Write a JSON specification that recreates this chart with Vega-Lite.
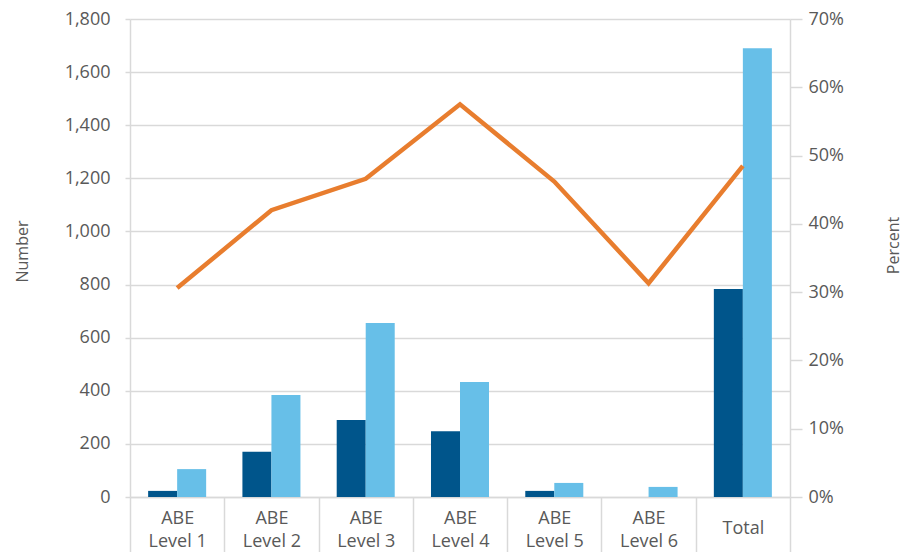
{
  "$schema": "https://vega.github.io/schema/vega-lite/v6.json",
  "width": 660,
  "height": 478,
  "autosize": {"type": "none"},
  "padding": {"left": 130, "top": 19, "right": 121, "bottom": 55},
  "config": {
    "font": "Open Sans",
    "view": {"stroke": null},
    "axis": {
      "labelFont": "Open Sans",
      "titleFont": "Open Sans",
      "labelColor": "#595959",
      "titleColor": "#595959",
      "titleFontWeight": "normal",
      "domainColor": "#d9d9d9",
      "tickColor": "#d9d9d9",
      "gridColor": "#d9d9d9",
      "domainWidth": 1.5,
      "tickWidth": 1.5,
      "gridWidth": 1.5
    }
  },
  "datasets": {
    "bars": [
      {"category": "ABE Level 1", "series": "A", "count": 23},
      {"category": "ABE Level 1", "series": "B", "count": 105},
      {"category": "ABE Level 2", "series": "A", "count": 170},
      {"category": "ABE Level 2", "series": "B", "count": 384},
      {"category": "ABE Level 3", "series": "A", "count": 290},
      {"category": "ABE Level 3", "series": "B", "count": 655},
      {"category": "ABE Level 4", "series": "A", "count": 248},
      {"category": "ABE Level 4", "series": "B", "count": 433},
      {"category": "ABE Level 5", "series": "A", "count": 23},
      {"category": "ABE Level 5", "series": "B", "count": 53},
      {"category": "ABE Level 6", "series": "A", "count": 0},
      {"category": "ABE Level 6", "series": "B", "count": 38},
      {"category": "Total", "series": "A", "count": 783},
      {"category": "Total", "series": "B", "count": 1690}
    ],
    "line": [
      {"category": "ABE Level 1", "percent": 0.306},
      {"category": "ABE Level 2", "percent": 0.420},
      {"category": "ABE Level 3", "percent": 0.466},
      {"category": "ABE Level 4", "percent": 0.575},
      {"category": "ABE Level 5", "percent": 0.462},
      {"category": "ABE Level 6", "percent": 0.313},
      {"category": "Total", "percent": 0.485}
    ]
  },
  "layer": [
    {
      "data": {"name": "bars"},
      "mark": {"type": "bar"},
      "encoding": {
        "x": {
          "field": "category",
          "type": "nominal",
          "sort": ["ABE Level 1", "ABE Level 2", "ABE Level 3", "ABE Level 4", "ABE Level 5", "ABE Level 6", "Total"],
          "scale": {"paddingInner": 0, "paddingOuter": 0},
          "axis": {
            "title": null,
            "labelAngle": 0,
            "labelFontSize": 18,
            "labelLineHeight": 23,
            "labelBaseline": "middle",
            "tickBand": "extent",
            "tickSize": 55,
            "labelPadding": {"condition": {"test": "datum.value == 'Total'", "value": -24}, "value": -34},
            "labelExpr": "isValid(datum.value) ? (datum.value == 'Total' ? 'Total' : ['ABE', substring(datum.value, 4)]) : ''",
            "grid": false
          }
        },
        "xOffset": {
          "field": "series",
          "type": "nominal",
          "sort": ["A", "B"],
          "scale": {"paddingInner": 0, "paddingOuter": 0.625}
        },
        "y": {
          "field": "count",
          "type": "quantitative",
          "scale": {"domain": [0, 1800]},
          "axis": {
            "title": "Number",
            "values": [0, 200, 400, 600, 800, 1000, 1200, 1400, 1600, 1800],
            "format": ",.0f",
            "labelFontSize": 18,
            "titleFontSize": 16,
            "tickSize": 5,
            "labelPadding": 15,
            "grid": true,
            "titleAngle": -90,
            "titleBaseline": "middle",
            "titleX": -108,
            "titleY": 232
          }
        },
        "color": {
          "field": "series",
          "type": "nominal",
          "sort": ["A", "B"],
          "scale": {"range": ["#00558b", "#67bfe8"]},
          "legend": null
        }
      }
    },
    {
      "data": {"name": "line"},
      "mark": {"type": "line", "color": "#e87d2e", "strokeWidth": 4.5},
      "encoding": {
        "x": {
          "field": "category",
          "type": "nominal",
          "sort": ["ABE Level 1", "ABE Level 2", "ABE Level 3", "ABE Level 4", "ABE Level 5", "ABE Level 6", "Total"]
        },
        "y": {
          "field": "percent",
          "type": "quantitative",
          "scale": {"domain": [0, 0.7]},
          "axis": {
            "orient": "right",
            "title": "Percent",
            "values": [0, 0.1, 0.2, 0.3, 0.4, 0.5, 0.6, 0.7],
            "format": ".0%",
            "labelFontSize": 18,
            "titleFontSize": 16,
            "tickSize": 12,
            "labelPadding": 6,
            "grid": false,
            "titleAngle": -90,
            "titleBaseline": "middle",
            "titleX": 103,
            "titleY": 226
          }
        }
      }
    }
  ],
  "resolve": {"scale": {"y": "independent"}}
}
